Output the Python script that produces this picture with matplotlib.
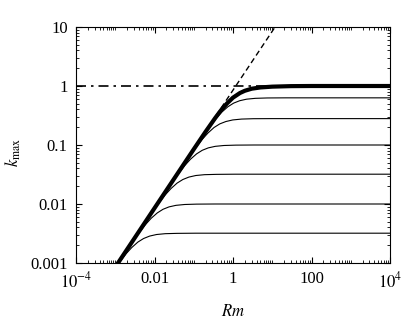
import matplotlib
matplotlib.use('Agg')
import matplotlib.pyplot as plt
from matplotlib.ticker import FixedLocator, LogLocator, NullFormatter

plt.rcParams['font.family'] = ['Liberation Serif', 'DejaVu Serif']
plt.rcParams['mathtext.fontset'] = 'stix'

# thick curve (upper envelope)
rm_thick = [0.001, 0.01, 0.1, 0.2, 0.35, 0.5, 0.7, 1, 1.5, 2, 3, 5, 10, 30, 100, 1e4]
k_thick = [0.00085, 0.0085, 0.0847, 0.1676, 0.2851, 0.391, 0.505, 0.635, 0.76,
           0.83, 0.9, 0.945, 0.975, 0.995, 1.0, 1.0]

# thin curves, one per saturation level
rm_thin = [
    [0.222, 0.371, 0.519, 0.741, 1.04, 1.48, 2.22, 3.71, 7.41, 22.2, 1e4],
    [0.0988, 0.165, 0.231, 0.329, 0.461, 0.659, 0.988, 1.65, 3.29, 9.88, 1e4],
    [0.0353, 0.0588, 0.0824, 0.118, 0.165, 0.235, 0.353, 0.588, 1.18, 3.53, 1e4],
    [0.0113, 0.0188, 0.0264, 0.0376, 0.0527, 0.0753, 0.113, 0.188, 0.376, 1.13, 1e4],
    [0.00353, 0.00588, 0.00824, 0.0118, 0.0165, 0.0235, 0.0353, 0.0588, 0.118, 0.353, 1e4],
    [0.00113, 0.00188, 0.00264, 0.00376, 0.00527, 0.00753, 0.0113, 0.0188, 0.0376, 0.113, 1e4],
]
k_thin = [
    [0.181, 0.282, 0.361, 0.445, 0.513, 0.563, 0.598, 0.618, 0.627, 0.63, 0.63],
    [0.0804, 0.125, 0.160, 0.198, 0.228, 0.250, 0.266, 0.275, 0.279, 0.28, 0.28],
    [0.0287, 0.0447, 0.0573, 0.0707, 0.0814, 0.0894, 0.0949, 0.0981, 0.0995, 0.1, 0.1],
    [0.00918, 0.0143, 0.0183, 0.0226, 0.0260, 0.0286, 0.0304, 0.0314, 0.0318, 0.032, 0.032],
    [0.00287, 0.00447, 0.00573, 0.00707, 0.00814, 0.00894, 0.00949, 0.00981, 0.00995, 0.01, 0.01],
    [0.000918, 0.00143, 0.00183, 0.00226, 0.00260, 0.00286, 0.00304, 0.00314, 0.00318, 0.0032, 0.0032],
]

# asymptotes
dash_rm = [0.37, 11.8]
dash_k = [0.315, 10]
dashdot_rm = [1e-4, 10]
dashdot_k = [1, 1]

xticks = [1e-4, 1e-2, 1, 1e2, 1e4]
xlabels = [r'$10^{-4}$', '0.01', '1', '100', r'$10^{4}$']
yticks = [1e-3, 1e-2, 1e-1, 1, 10]
ylabels = ['0.001', '0.01', '0.1', '1', '10']

fig = plt.figure(figsize=(4.04, 3.2), dpi=100)
ax = fig.add_axes([76 / 404, 1 - 263 / 320, 314 / 404, 236 / 320])

for x, y in zip(rm_thin, k_thin):
    ax.plot(x, y, color='black', lw=0.8)
ax.plot(rm_thick, k_thick, color='black', lw=3.0, solid_capstyle='butt')
ax.plot(dash_rm, dash_k, color='black', lw=1.0, dashes=(4, 2.5))
ax.plot(dashdot_rm, dashdot_k, color='black', lw=1.2, dashes=(6, 3, 1.5, 3))

ax.set_xscale('log')
ax.set_yscale('log')
ax.set_xlim(1e-4, 1e4)
ax.set_ylim(1e-3, 10)

ax.xaxis.set_major_locator(FixedLocator(xticks))
ax.set_xticklabels(xlabels)
ax.yaxis.set_major_locator(FixedLocator(yticks))
ax.set_yticklabels(ylabels)
ax.xaxis.set_minor_locator(LogLocator(base=10, subs=range(1, 10), numticks=50))
ax.yaxis.set_minor_locator(LogLocator(base=10, subs=range(2, 10), numticks=50))
ax.xaxis.set_minor_formatter(NullFormatter())
ax.yaxis.set_minor_formatter(NullFormatter())

ax.tick_params(which='both', direction='in', top=True, right=True, labelsize=12)
ax.tick_params(which='major', length=4, width=0.8, pad=6)
ax.tick_params(which='minor', length=2, width=0.6)
for s in ax.spines.values():
    s.set_linewidth(0.8)

fig.text(233 / 404, 1 - 312 / 320, r'$Rm$', fontsize=12, ha='center', va='center')
fig.text(13 / 404, 1 - 152 / 320, r'$k_{\mathrm{max}}$', fontsize=12,
         ha='center', va='center', rotation=90)

fig.savefig('out.png', dpi=100)
